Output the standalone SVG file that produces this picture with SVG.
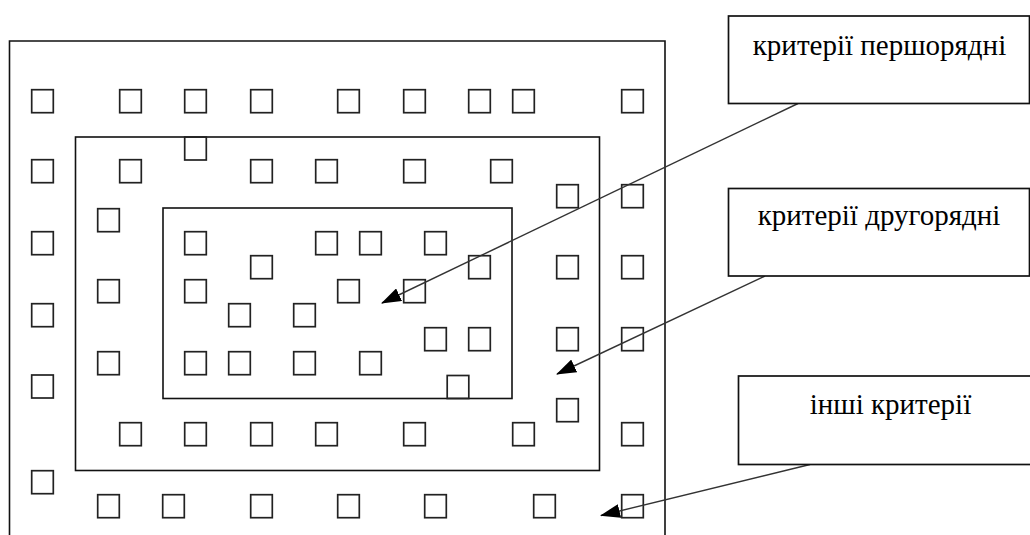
<svg xmlns="http://www.w3.org/2000/svg" width="1030" height="535" viewBox="0 0 1030 535">
  <style>
    .frame { fill: none; stroke: #111; stroke-width: 1.6; }
    .sq { fill: none; stroke: #222; stroke-width: 1.7; }
    .box { fill: #fff; stroke: #111; stroke-width: 1.7; }
    .lbl { font-family: "Liberation Serif", "Times New Roman", serif; font-size: 29px; fill: #000; text-anchor: middle; }
    .conn { fill: none; stroke: #333; stroke-width: 1.4; marker-end: url(#head); }
  </style>
  <defs>
    <marker id="head" viewBox="0 0 20 14" refX="19" refY="7" markerWidth="20" markerHeight="14" markerUnits="userSpaceOnUse" orient="auto">
      <path d="M0,0 L20,7 L0,14 z" fill="#000"/>
    </marker>
  </defs>
  <rect width="1030" height="535" fill="#fff"/>

  <!-- nested zones -->
  <g id="zone-outer"><path class="frame" d="M9.5,536 V41 H665 V536"/></g>
  <g id="zone-middle"><rect class="frame" x="75.5" y="137" width="524" height="333.5"/></g>
  <g id="zone-inner"><rect class="frame" x="163" y="208" width="349" height="190.5"/></g>

  <!-- criteria markers -->
  <g id="markers">
    <rect class="sq" x="31.7" y="89.7" width="21.6" height="23"/>
    <rect class="sq" x="119.7" y="89.7" width="21.6" height="23"/>
    <rect class="sq" x="184.7" y="89.7" width="21.6" height="23"/>
    <rect class="sq" x="250.7" y="89.7" width="21.6" height="23"/>
    <rect class="sq" x="337.7" y="89.7" width="21.6" height="23"/>
    <rect class="sq" x="403.7" y="89.7" width="21.6" height="23"/>
    <rect class="sq" x="468.7" y="89.7" width="21.6" height="23"/>
    <rect class="sq" x="512.7" y="89.7" width="21.6" height="23"/>
    <rect class="sq" x="621.7" y="89.7" width="21.6" height="23"/>

    <rect class="sq" x="184.7" y="137" width="21.6" height="23"/>

    <rect class="sq" x="31.7" y="159.7" width="21.6" height="23"/>
    <rect class="sq" x="119.7" y="159.7" width="21.6" height="23"/>
    <rect class="sq" x="250.7" y="159.7" width="21.6" height="23"/>
    <rect class="sq" x="315.7" y="159.7" width="21.6" height="23"/>
    <rect class="sq" x="403.7" y="159.7" width="21.6" height="23"/>
    <rect class="sq" x="490.7" y="159.7" width="21.6" height="23"/>

    <rect class="sq" x="556.7" y="184.7" width="21.6" height="23"/>
    <rect class="sq" x="621.7" y="184.7" width="21.6" height="23"/>

    <rect class="sq" x="97.7" y="208.7" width="21.6" height="23"/>

    <rect class="sq" x="31.7" y="231.7" width="21.6" height="23"/>
    <rect class="sq" x="184.7" y="231.7" width="21.6" height="23"/>
    <rect class="sq" x="315.7" y="231.7" width="21.6" height="23"/>
    <rect class="sq" x="359.7" y="231.7" width="21.6" height="23"/>
    <rect class="sq" x="424.7" y="231.7" width="21.6" height="23"/>

    <rect class="sq" x="250.7" y="255.7" width="21.6" height="23"/>
    <rect class="sq" x="468.7" y="255.7" width="21.6" height="23"/>
    <rect class="sq" x="556.7" y="255.7" width="21.6" height="23"/>
    <rect class="sq" x="621.7" y="255.7" width="21.6" height="23"/>

    <rect class="sq" x="97.7" y="279.7" width="21.6" height="23"/>
    <rect class="sq" x="184.7" y="279.7" width="21.6" height="23"/>
    <rect class="sq" x="337.7" y="279.7" width="21.6" height="23"/>
    <rect class="sq" x="403.7" y="279.7" width="21.6" height="23"/>

    <rect class="sq" x="31.7" y="303.7" width="21.6" height="23"/>
    <rect class="sq" x="228.7" y="303.7" width="21.6" height="23"/>
    <rect class="sq" x="293.7" y="303.7" width="21.6" height="23"/>

    <rect class="sq" x="424.7" y="327.7" width="21.6" height="23"/>
    <rect class="sq" x="468.7" y="327.7" width="21.6" height="23"/>
    <rect class="sq" x="556.7" y="327.7" width="21.6" height="23"/>
    <rect class="sq" x="621.7" y="327.7" width="21.6" height="23"/>

    <rect class="sq" x="97.7" y="351.7" width="21.6" height="23"/>
    <rect class="sq" x="184.7" y="351.7" width="21.6" height="23"/>
    <rect class="sq" x="228.7" y="351.7" width="21.6" height="23"/>
    <rect class="sq" x="293.7" y="351.7" width="21.6" height="23"/>
    <rect class="sq" x="359.7" y="351.7" width="21.6" height="23"/>

    <rect class="sq" x="31.7" y="375" width="21.6" height="23"/>
    <rect class="sq" x="447.2" y="375.5" width="21.6" height="23"/>

    <rect class="sq" x="556.7" y="398.7" width="21.6" height="23"/>

    <rect class="sq" x="119.7" y="422.7" width="21.6" height="23"/>
    <rect class="sq" x="184.7" y="422.7" width="21.6" height="23"/>
    <rect class="sq" x="250.7" y="422.7" width="21.6" height="23"/>
    <rect class="sq" x="315.7" y="422.7" width="21.6" height="23"/>
    <rect class="sq" x="403.7" y="422.7" width="21.6" height="23"/>
    <rect class="sq" x="512.7" y="422.7" width="21.6" height="23"/>
    <rect class="sq" x="621.7" y="422.7" width="21.6" height="23"/>

    <rect class="sq" x="31.7" y="470.7" width="21.6" height="23"/>

    <rect class="sq" x="97.7" y="494.7" width="21.6" height="23"/>
    <rect class="sq" x="162.7" y="494.7" width="21.6" height="23"/>
    <rect class="sq" x="250.7" y="494.7" width="21.6" height="23"/>
    <rect class="sq" x="337.7" y="494.7" width="21.6" height="23"/>
    <rect class="sq" x="424.7" y="494.7" width="21.6" height="23"/>
    <rect class="sq" x="533.7" y="494.7" width="21.6" height="23"/>
    <rect class="sq" x="621.7" y="494.7" width="21.6" height="23"/>
  </g>

  <!-- connectors from labels into zones -->
  <g id="connectors">
    <line class="conn" x1="798" y1="103.5" x2="382" y2="303"/>
    <line class="conn" x1="765" y1="276" x2="557" y2="374"/>
    <line class="conn" x1="810" y1="464.5" x2="601" y2="515.5"/>
  </g>

  <!-- labels -->
  <g id="label-primary">
    <rect class="box" x="728.5" y="16" width="301" height="87.5"/>
    <text class="lbl" x="879.5" y="55">критерії першорядні</text>
  </g>
  <g id="label-secondary">
    <rect class="box" x="728.5" y="188.5" width="301" height="87.5"/>
    <text class="lbl" x="879" y="225">критерії другорядні</text>
  </g>
  <g id="label-other">
    <rect class="box" x="738.5" y="376" width="300" height="88.5"/>
    <text class="lbl" x="890.5" y="413.5">інші критерії</text>
  </g>
</svg>
